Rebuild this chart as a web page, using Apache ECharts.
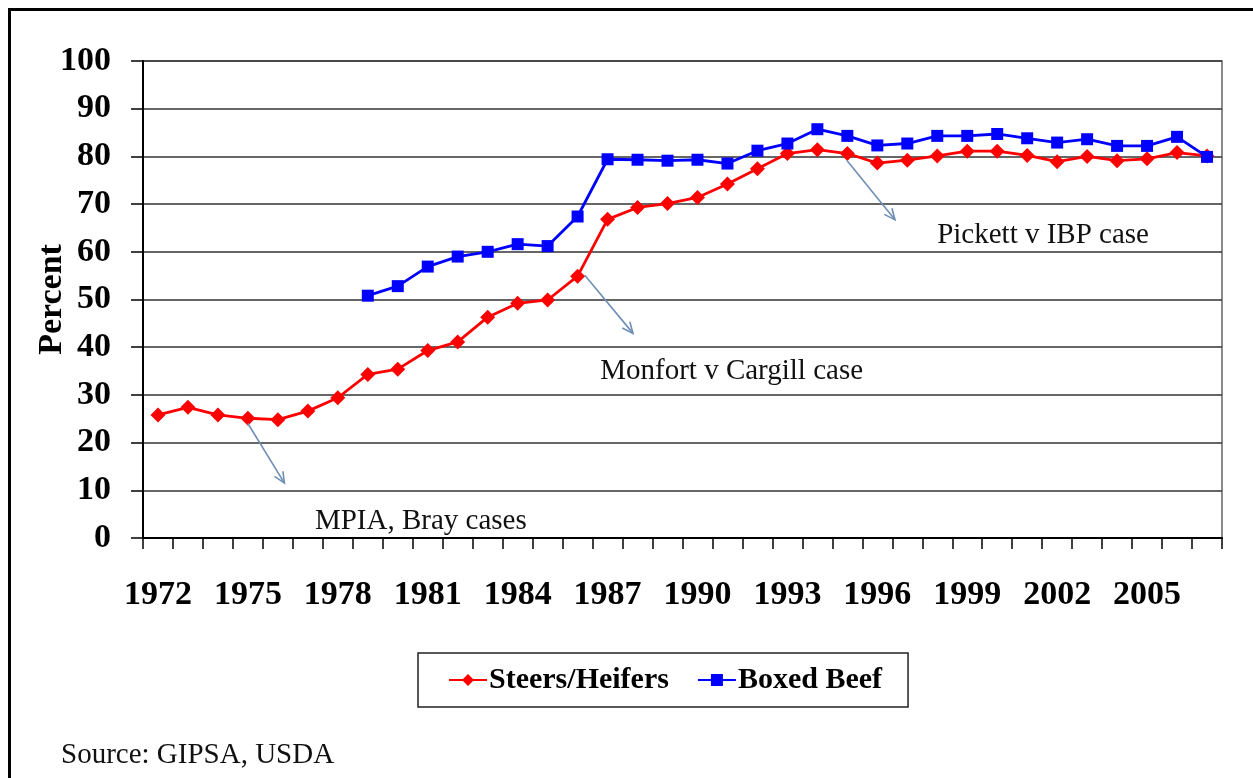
<!DOCTYPE html>
<html>
<head>
<meta charset="utf-8">
<script src="https://cdn.jsdelivr.net/npm/echarts@6/dist/echarts.min.js"></script>
<style>
html,body{margin:0;padding:0;background:#fff;}
#chart{width:1253px;height:778px;}
</style>
</head>
<body>
<div id="chart"></div>
<script>
var years = ['1972','1973','1974','1975','1976','1977','1978','1979','1980','1981','1982','1983','1984','1985','1986','1987','1988','1989','1990','1991','1992','1993','1994','1995','1996','1997','1998','1999','2000','2001','2002','2003','2004','2005','2006','2007'];
var steersHeifers = [25.8, 27.4, 25.8, 25.1, 24.8, 26.6, 29.4, 34.3, 35.4, 39.3, 41.1, 46.3, 49.2, 49.9, 54.9, 66.8, 69.3, 70.1, 71.4, 74.2, 77.4, 80.6, 81.4, 80.6, 78.6, 79.2, 80.1, 81.1, 81.1, 80.2, 78.9, 80.0, 79.1, 79.5, 80.8, 80.1];
var boxedBeef = [null, null, null, null, null, null, null, 50.8, 52.8, 56.9, 59.0, 60.0, 61.6, 61.2, 67.4, 79.4, 79.3, 79.1, 79.3, 78.5, 81.2, 82.7, 85.7, 84.3, 82.3, 82.7, 84.3, 84.3, 84.7, 83.8, 82.9, 83.6, 82.2, 82.2, 84.1, 79.9];
var annotationTexts = ['MPIA, Bray cases', 'Monfort v Cargill case', 'Pickett v IBP case'];
var annotationTextPos = [[8.77, 3.4], [19.14, 34.9], [29.53, 63.5]];
var annotationArrows = [[3.0, 24.0, 4.22, 11.5], [14.24, 55.1, 15.85, 42.9], [22.98, 79.2, 24.59, 66.7]];
var sourceText = 'Source: GIPSA, USDA';

var serif = '"Liberation Serif", "Times New Roman", serif';
var chart = echarts.init(document.getElementById('chart'), null, {renderer: 'canvas'});

var arrowData = annotationArrows.map(function (a) { return a; });
var textData = annotationTextPos.map(function (p, i) { return [p[0], p[1], i]; });

var option = {
  animation: false,
  backgroundColor: '#fff',
  title: {
    text: sourceText,
    left: 61,
    top: 741,
    padding: 0,
    textStyle: {fontFamily: serif, fontSize: 29, fontWeight: 'normal', color: '#111'}
  },
  graphic: [{
    type: 'rect',
    shape: {x: 9.5, y: 9.5, width: 1400, height: 1000},
    style: {fill: 'none', stroke: '#000', lineWidth: 3},
    silent: true
  }],
  legend: {
    left: 418,
    top: 653,
    padding: [12, 26, 12, 30],
    itemGap: 28,
    itemWidth: 38,
    itemHeight: 15,
    borderColor: '#222',
    borderWidth: 1.5,
    textStyle: {fontFamily: serif, fontSize: 30, fontWeight: 'bold', color: '#000', padding: [0, 0, 0, -3]},
    data: ['Steers/Heifers', 'Boxed Beef']
  },
  grid: {
    left: 143, right: 31, top: 61, bottom: 240,
    show: true, borderColor: '#666', borderWidth: 1.5, backgroundColor: 'transparent'
  },
  xAxis: [{
    type: 'category',
    data: years,
    boundaryGap: true,
    axisLine: {onZero: false, lineStyle: {color: '#000', width: 2}},
    axisTick: {show: true, interval: 0, length: 11, lineStyle: {color: '#000', width: 1.5}},
    axisLabel: {interval: 2, margin: 40, fontFamily: serif, fontSize: 34, fontWeight: 'bold', color: '#000'},
    splitLine: {show: false}
  }, {
    type: 'value',
    min: -0.5, max: 35.5,
    show: false
  }],
  yAxis: {
    type: 'value',
    min: 0, max: 100, interval: 10,
    name: 'Percent',
    nameLocation: 'middle',
    nameGap: 74,
    nameRotate: 90,
    nameMoveOverlap: false,
    nameTextStyle: {fontFamily: serif, fontSize: 34, fontWeight: 'bold', color: '#000'},
    axisLine: {show: true, onZero: false, lineStyle: {color: '#000', width: 2}},
    axisTick: {show: true, length: 12, lineStyle: {color: '#000', width: 1.5}},
    axisLabel: {margin: 32, fontFamily: serif, fontSize: 34, fontWeight: 'bold', color: '#000'},
    splitLine: {show: true, lineStyle: {color: '#333', width: 1.5}}
  },
  series: [{
    name: 'Steers/Heifers',
    type: 'line',
    data: steersHeifers,
    symbol: 'diamond',
    symbolSize: 15,
    itemStyle: {color: '#ff0000'},
    lineStyle: {color: '#ff0000', width: 2.8},
    z: 3
  }, {
    name: 'Boxed Beef',
    type: 'line',
    data: boxedBeef,
    symbol: 'rect',
    symbolSize: 12,
    connectNulls: false,
    itemStyle: {color: '#0000ff'},
    lineStyle: {color: '#0000ff', width: 2.8},
    z: 4
  }, {
    name: 'arrows',
    type: 'custom',
    xAxisIndex: 1,
    yAxisIndex: 0,
    data: arrowData,
    silent: true,
    z: 5,
    encode: {x: [0, 2], y: [1, 3]},
    renderItem: function (params, api) {
      var p1 = api.coord([api.value(0), api.value(1)]);
      var p2 = api.coord([api.value(2), api.value(3)]);
      var ang = Math.atan2(p2[1] - p1[1], p2[0] - p1[0]);
      var L = 12, da = 0.42;
      var h1 = [p2[0] - L * Math.cos(ang - da), p2[1] - L * Math.sin(ang - da)];
      var h2 = [p2[0] - L * Math.cos(ang + da), p2[1] - L * Math.sin(ang + da)];
      var st = {stroke: '#6f8fb5', lineWidth: 1.6, fill: null};
      return {
        type: 'group',
        children: [
          {type: 'line', shape: {x1: p1[0], y1: p1[1], x2: p2[0], y2: p2[1]}, style: st},
          {type: 'polyline', shape: {points: [h1, p2, h2]}, style: st}
        ]
      };
    }
  }, {
    name: 'notes',
    type: 'custom',
    xAxisIndex: 1,
    yAxisIndex: 0,
    data: textData,
    silent: true,
    z: 5,
    renderItem: function (params, api) {
      var p = api.coord([api.value(0), api.value(1)]);
      return {
        type: 'text',
        style: {
          text: annotationTexts[api.value(2)],
          x: p[0], y: p[1],
          align: 'center', verticalAlign: 'middle',
          font: 'normal 29px ' + serif,
          fill: '#111'
        }
      };
    }
  }]
};
chart.setOption(option);
</script>
</body>
</html>
